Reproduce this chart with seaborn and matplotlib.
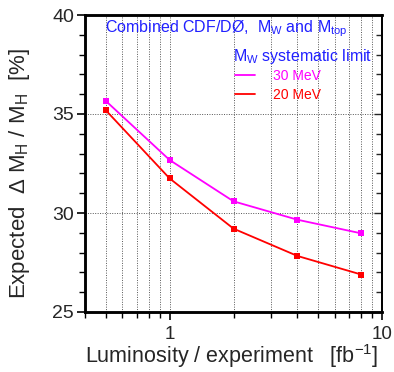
import matplotlib
matplotlib.use("Agg")
import matplotlib.pyplot as plt
import seaborn as sns
import numpy as np
import pandas as pd
from matplotlib.ticker import FixedLocator, NullFormatter, MultipleLocator, FixedFormatter

lumi = [0.5, 1, 2, 4, 8]
dm_30 = [35.67, 32.68, 30.59, 29.66, 28.97]
dm_20 = [35.2, 31.75, 29.21, 27.83, 26.89]
series_names = ["30 MeV", "20 MeV"]
series_colors = ["#ff00ff", "#ff0000"]
x_tick_vals = [1, 10]
x_tick_labels = ["1", "10"]

df = pd.DataFrame({
    "lumi": lumi * 2,
    "dm": dm_30 + dm_20,
    "syst": [series_names[0]] * len(lumi) + [series_names[1]] * len(lumi),
})

sns.set_theme(style="white")
plt.rcParams['font.family'] = ['Liberation Sans', 'DejaVu Sans']
plt.rcParams['mathtext.fontset'] = 'custom'
plt.rcParams['mathtext.rm'] = 'Liberation Sans'
plt.rcParams['mathtext.it'] = 'Liberation Sans'
plt.rcParams['mathtext.default'] = 'rm'

fig = plt.figure(figsize=(3.94, 3.72), dpi=100)
ax = fig.add_axes([85/394, 1-312/372, (382-85)/394, (312-15)/372])

sns.lineplot(data=df, x="lumi", y="dm", hue="syst", hue_order=series_names,
             palette=series_colors, marker="s", markersize=4, markeredgewidth=0,
             linewidth=1.3, ax=ax, legend=False)

ax.set_xscale("log")
ax.set_xlim(0.4, 10)
ax.set_ylim(25, 40)

ax.xaxis.set_major_locator(FixedLocator(x_tick_vals))
ax.xaxis.set_major_formatter(FixedFormatter(x_tick_labels))
ax.xaxis.set_minor_locator(FixedLocator([0.4, 0.5, 0.6, 0.7, 0.8, 0.9, 2, 3, 4, 5, 6, 7, 8, 9]))
ax.xaxis.set_minor_formatter(NullFormatter())
ax.yaxis.set_major_locator(MultipleLocator(5))
ax.yaxis.set_minor_locator(MultipleLocator(1))

for xv in [0.5, 0.6, 0.7, 0.8, 0.9, 1, 2, 3, 4, 5, 6, 7, 8, 9]:
    ax.axvline(xv, color="#555555", linestyle=(0, (1, 1.5)), linewidth=0.7, zorder=0)
for yv in [30, 35]:
    ax.axhline(yv, color="#555555", linestyle=(0, (1, 1.5)), linewidth=0.7, zorder=0)

ax.tick_params(axis="both", which="both", direction="out", color="black",
               left=True, bottom=True)
ax.tick_params(axis="y", which="major", labelsize=14, pad=2)
ax.tick_params(axis="x", which="major", labelsize=13.5, pad=4)
ax.tick_params(axis="both", which="major", length=6, width=1.2)
ax.tick_params(axis="both", which="minor", length=4, width=1.0)

axr = ax.twinx()
axr.set_ylim(25, 40)
axr.yaxis.set_major_locator(MultipleLocator(5))
axr.yaxis.set_minor_locator(MultipleLocator(1))
axr.tick_params(axis="y", which="both", direction="in", right=True, labelright=False)
axr.tick_params(axis="y", which="major", length=6, width=1.0)
axr.tick_params(axis="y", which="minor", length=4, width=1.0)
axr.grid(False)

for a in (ax, axr):
    for s in ["left", "bottom", "top"]:
        a.spines[s].set_linewidth(1.8)
        a.spines[s].set_color("black")
    a.spines["right"].set_linewidth(1.3)
    a.spines["right"].set_color("black")

ax.set_xlabel("")
ax.set_ylabel("")

fig.text(232/394, 1-363/372, r"Luminosity / experiment   [fb$^{-1}$]",
         ha="center", va="baseline", fontsize=15.5)
fig.text(20/394, 1-174/372, r"Expected  $\Delta$ M$_\mathregular{H}$ / M$_\mathregular{H}$  [%]",
         ha="center", va="center", rotation=90, fontsize=16)

fig.text(105/394, 1-32/372, r"Combined CDF/DØ,  M$_\mathregular{W}$ and M$_\mathregular{top}$",
         color="#2020ff", fontsize=11.5, ha="left", va="baseline")
fig.text(233/394, 1-61/372, r"M$_\mathregular{W}$ systematic limit",
         color="#2020ff", fontsize=11.5, ha="left", va="baseline")

leg_line_y = [75, 94]
leg_text_y = [80, 99]
for name, col, ly, ty in zip(series_names, series_colors, leg_line_y, leg_text_y):
    ax.plot([235/394, 255/394], [1-ly/372, 1-ly/372], transform=fig.transFigure,
            color=col, linewidth=1.3, clip_on=False)
    fig.text(273/394, 1-ty/372, name, color=col, fontsize=10, ha="left", va="baseline")

fig.savefig("out.png", dpi=100)
